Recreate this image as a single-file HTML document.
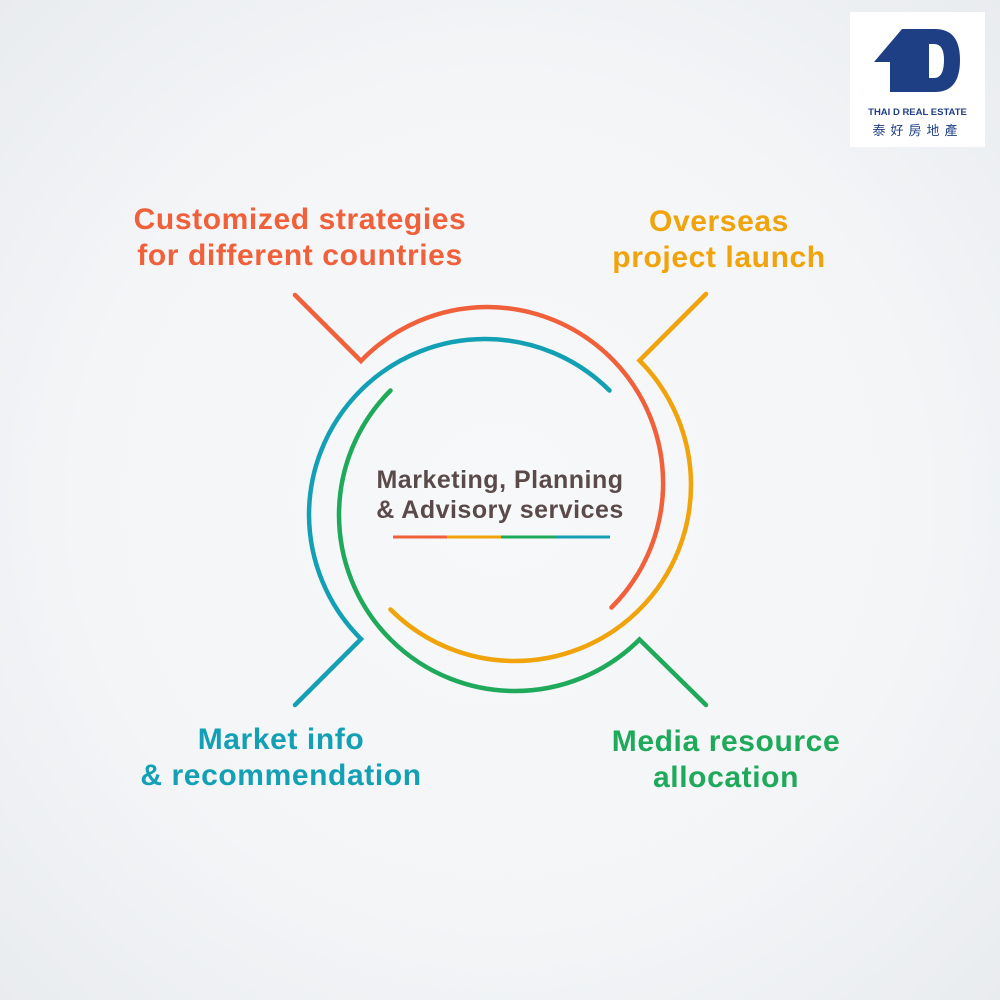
<!DOCTYPE html>
<html><head><meta charset="utf-8"><style>
html,body{margin:0;padding:0}
body{width:1000px;height:1000px;background:radial-gradient(ellipse at center,#f6f8f9 0%,#f3f5f7 60%,#e9ecef 100%);position:relative;overflow:hidden;font-family:"Liberation Sans","Noto Sans CJK TC",sans-serif}
.t{position:absolute;font-weight:bold;text-align:center;font-size:30px;letter-spacing:0.6px;line-height:36px;white-space:nowrap}
</style></head><body>
<svg width="1000" height="1000" style="position:absolute;left:0;top:0" fill="none" stroke-width="4.5" stroke-linecap="round" stroke-linejoin="miter">
<path d="M295 295 L361 361 A176 176 0 0 1 487 307 A176 176 0 0 1 611.5 607.5" stroke="#f0603a"/>
<path d="M295 705 L361 639 A176 176 0 0 1 309 515 A176 176 0 0 1 485 339 A176 176 0 0 1 609.5 390.5" stroke="#13a0b5"/>
<path d="M706 294 L639.5 360.5 A176 176 0 0 1 691 485 A176 176 0 0 1 515 661 A176 176 0 0 1 390.5 609.5" stroke="#f0a30a"/>
<path d="M390.5 390.5 A176 176 0 0 0 339 515 A176 176 0 0 0 515 691 A176 176 0 0 0 639.5 639.5 L706 705" stroke="#1fa95a"/>
<g stroke-width="3" stroke-linecap="butt">
<line x1="393" y1="537" x2="447" y2="537" stroke="#f0603a"/>
<line x1="447" y1="537" x2="501" y2="537" stroke="#f0a30a"/>
<line x1="501" y1="537" x2="555" y2="537" stroke="#1fa95a"/>
<line x1="555" y1="537" x2="610" y2="537" stroke="#13a0b5"/>
</g>
</svg>
<div class="t" style="left:300px;top:465px;width:400px;font-size:25px;letter-spacing:0.5px;line-height:30px;color:#5a4a4a">Marketing, Planning<br>&amp; Advisory services</div>
<div class="t" style="left:100px;top:202px;width:400px;color:#f0603a">Customized strategies<br>for different countries</div>
<div class="t" style="left:569px;top:204px;width:300px;color:#f0a30a">Overseas<br>project launch</div>
<div class="t" style="left:131px;top:722px;width:300px;color:#13a0b5">Market info<br>&amp; recommendation</div>
<div class="t" style="left:576px;top:724px;width:300px;color:#1fa95a">Media resource<br>allocation</div>
<div style="position:absolute;left:850px;top:12px;width:135px;height:135px;background:#fff">
<svg width="135" height="135" style="position:absolute;left:0;top:0">
<path d="M24 50 L52 17 L62 17 L62 80 L40 80 L40 50 Z" fill="#1f3f85"/>
<path d="M62 17 L85 17 Q110 17 110 48 Q110 80 85 80 L62 80 Z M79 32 L79 66 L84 66 Q94 66 94 48 Q94 32 84 32 Z" fill="#1f3f85" fill-rule="evenodd"/>
<text x="67.5" y="103" text-anchor="middle" font-family="Liberation Sans" font-weight="bold" font-size="9.5" fill="#1f3f85">THAI D REAL ESTATE</text>
<text x="67.5" y="123" text-anchor="middle" font-family="Noto Sans CJK TC,sans-serif" font-size="13" letter-spacing="5" fill="#1f3f85">泰好房地產</text>
</svg>
</div>
</body></html>
